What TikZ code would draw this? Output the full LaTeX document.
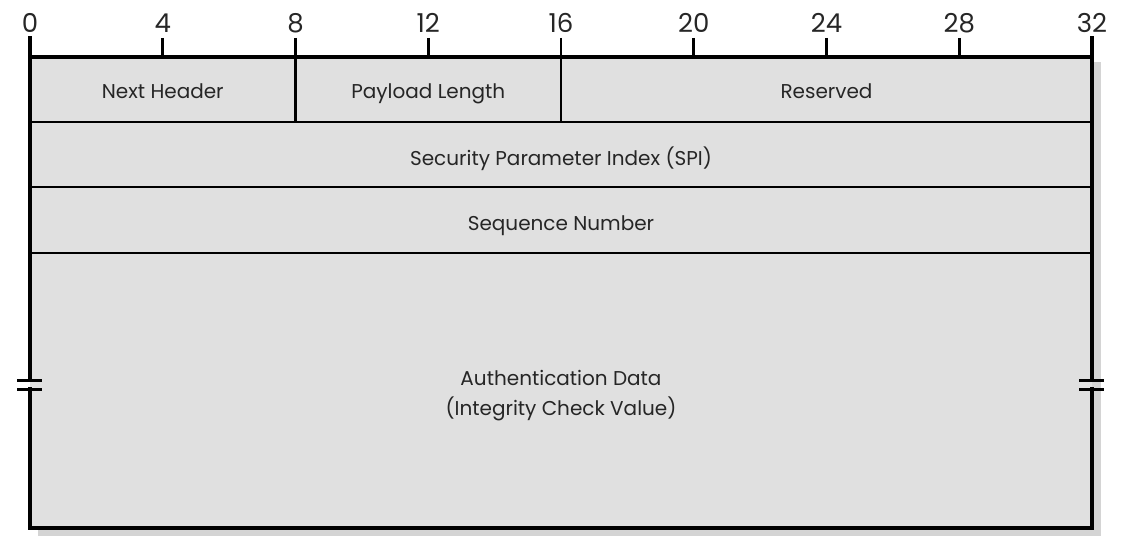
\documentclass[tikz,border=0pt]{standalone}
\usepackage{fontspec}
\setmainfont{Poppins}
\begin{document}
\begin{tikzpicture}[x=1pt,y=-1pt,
  field/.style={text=black!85,font=\fontsize{20}{30}\selectfont,inner sep=0pt,anchor=base},
  bitnum/.style={text=black!85,font=\fontsize{26}{28}\selectfont,inner sep=0pt,anchor=base},
  frame/.style={line width=3.2pt,line cap=rect},
  divider/.style={line width=2.2pt},
  tick/.style={line width=2.8pt}]
\useasboundingbox (0,0) rectangle (1126,559);
% drop shadow and body of the header
\fill[black!17] (38,62) rectangle (1101,536);
\fill[black!12] (30,57) rectangle (1092,528);
% bit ruler, one mark every four bits
\foreach \b in {0,4,...,32}{
  \pgfmathsetmacro{\bx}{30+\b*33.1875}
  \node[bitnum] (n\b) at (\bx,33) {\b};
  \draw[tick] (\bx,38) -- (\bx,57);
}
% row dividers
\draw[divider] (30,122) -- (1092,122);
\draw[divider] (30,187) -- (1092,187);
\draw[divider] (30,253) -- (1092,253);
\draw[divider] (295.5,57) -- (295.5,122);
\draw[divider] (561,57) -- (561,122);
% outer frame with breaks on both sides
\draw[frame] (30,38) -- (30,380);
\draw[frame] (30,389) -- (30,528) -- (1092,528) -- (1092,389);
\draw[frame] (1092,380) -- (1092,38);
\draw[frame] (30,57) -- (1092,57);
\draw[line width=3pt] (17,380) -- (42,380) (17,389) -- (42,389);
\draw[line width=3pt] (1079,380) -- (1104,380) (1079,389) -- (1104,389);
% field labels
\node[field] (nh) at (162.75,99) {Next Header};
\node[field] (pl) at (428.25,99) {Payload Length};
\node[field] (rs) at (826.5,99) {Reserved};
\node[field] (spi) at (561,165) {Security Parameter Index (SPI)};
\node[field] (seq) at (561,230) {Sequence Number};
\node[field] (ad) at (561,385) {Authentication Data};
\node[field] (icv) at (561,415) {(Integrity Check Value)};
\end{tikzpicture}
\end{document}
